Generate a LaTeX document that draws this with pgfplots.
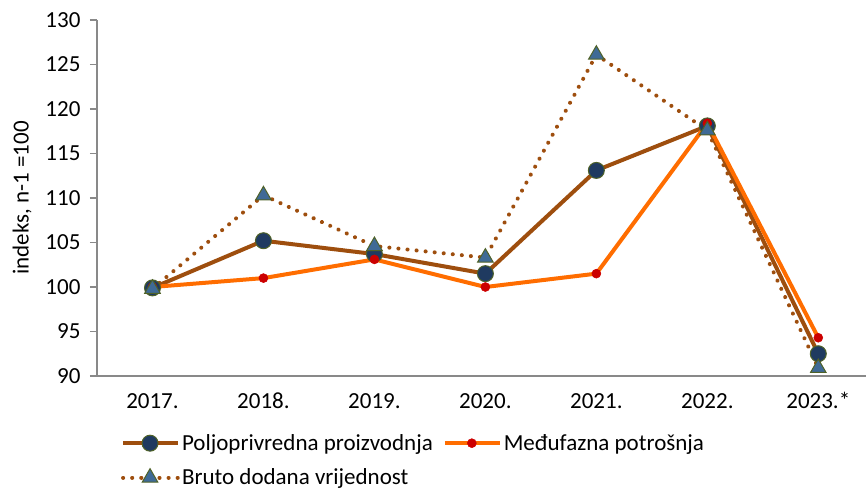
\documentclass[border=0pt]{standalone}
\usepackage{pgfplots}
\pgfplotsset{compat=1.18}
\usepackage{fontspec}
\setmainfont{Carlito}
\definecolor{cbrown}{HTML}{9E4E0E}
\definecolor{cnavy}{HTML}{1F3A60}
\definecolor{corange}{HTML}{FF6D00}
\definecolor{cred}{HTML}{CC0000}
\definecolor{csteel}{HTML}{3F6A96}
\definecolor{colive}{HTML}{4F6228}
\definecolor{caxis}{HTML}{898989}
\begin{document}
\begin{tikzpicture}[x=1pt,y=1pt]
\begin{axis}[
  at={(0,0)}, anchor=south west,
  scale only axis, width=769pt, height=356pt,
  xmin=-0.5, xmax=6.43, ymin=90, ymax=130,
  font=\fontsize{23}{27}\selectfont,
  xtick={0,...,6},
  xticklabels={2017.,2018.,2019.,2020.,2021.,2022.,2023.*},
  major x tick style={draw=none},
  extra x ticks={0.5,1.5,2.5,3.5,4.5,5.5},
  extra x tick labels={},
  extra x tick style={major tick length=7pt, tick style={draw=caxis, line width=1.2pt}, tick align=outside},
  ytick={90,95,...,130},
  tick align=outside, major tick length=7pt,
  ytick style={draw=caxis, line width=1.2pt},
  yticklabel style={xshift=-6pt},
  xticklabel style={text height=15pt, text depth=4pt, anchor=north, yshift=-7pt},
  /pgf/number format/assume math mode=true,
  axis x line*=bottom, axis y line*=left,
  axis line style={draw=caxis, line width=1.4pt, -},
  ylabel={indeks, n-1 =100},
  ylabel style={at={(axis description cs:-0.0975,0.5)}, anchor=center},
  clip=false,
  legend columns=2,
  legend style={draw=none, fill=none, at={(rel axis cs:0.031,-0.158)}, anchor=north west,
    font=\fontsize{23}{27}\selectfont,
    /tikz/every even column/.append style={column sep=8pt},
    row sep=13pt, inner sep=0pt},
  legend cell align=left,
  legend image code/.code={\draw[mark repeat=2,mark phase=2] plot coordinates {(0pt,0pt)(27pt,0pt)(55pt,0pt)};},
]
\addplot[cbrown, line width=4pt, mark=*, mark size=8pt, mark options={solid, fill=cnavy, draw=colive, line width=1pt}]
  coordinates {(0,99.9)(1,105.2)(2,103.7)(3,101.5)(4,113.1)(5,118.1)(6,92.5)};
\addlegendentry{Poljoprivredna proizvodnja}
\addplot[corange, line width=4pt, mark=*, mark size=4.5pt, mark options={solid, fill=cred, draw=cred, line width=0.5pt}]
  coordinates {(0,100.0)(1,101.0)(2,103.1)(3,100.0)(4,101.5)(5,118.4)(6,94.3)};
\addlegendentry{Međufazna potrošnja}
\addplot[cbrown, line width=4pt, line cap=round, dash pattern=on 0.1pt off 9pt, mark=triangle*, mark size=9pt, mark options={solid, fill=csteel, draw=colive, line width=1pt}]
  coordinates {(0,99.8)(1,110.3)(2,104.6)(3,103.3)(4,126.1)(5,117.6)(6,90.9)};
\addlegendentry{Bruto dodana vrijednost}
\end{axis}
\pgfresetboundingbox
\path[use as bounding box] (-97,-116) rectangle (769,376);
\end{tikzpicture}
\end{document}
